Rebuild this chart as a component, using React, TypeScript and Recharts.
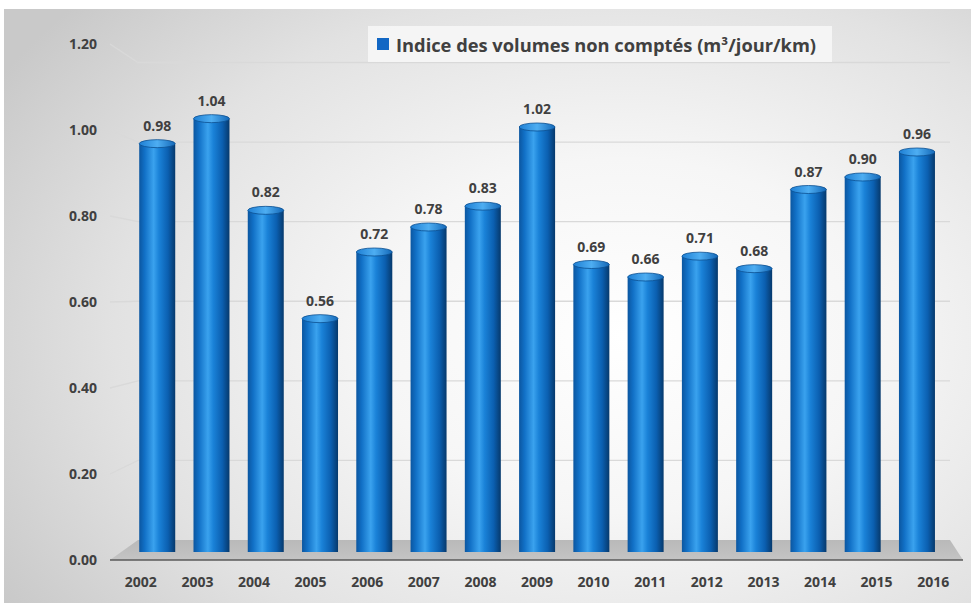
import { BarChart, Bar, XAxis, YAxis, CartesianGrid, Legend, LabelList } from 'recharts';

const years = ['2002', '2003', '2004', '2005', '2006', '2007', '2008', '2009', '2010', '2011', '2012', '2013', '2014', '2015', '2016'];
const indice = [0.98, 1.04, 0.82, 0.56, 0.72, 0.78, 0.83, 1.02, 0.69, 0.66, 0.71, 0.68, 0.87, 0.9, 0.96];
const yTicks = [0, 0.2, 0.4, 0.6, 0.8, 1.0, 1.2];
const seriesName = 'Indice des volumes non comptés (m³/jour/km)';

const data = years.map((year, i) => ({ year, indice: indice[i] }));

const W = 971;
const H = 605;
const PLOT_BOTTOM = 552;
const PLOT_LEFT = 130;
const PLOT_RIGHT = 944;
const FONT = '"Open Sans", "DejaVu Sans", sans-serif';
const TEXT = '#404040';

// fake 3D: front edge (labels) and back wall (gridlines) relative to the bar plane
const frontY = (y: number) => PLOT_BOTTOM + 8 - (PLOT_BOTTOM - y) * 1.032;
const backY = (y: number) => PLOT_BOTTOM - 12 - (PLOT_BOTTOM - y) * 0.955;
const midX = (PLOT_LEFT + PLOT_RIGHT) / 2;
const frontX = (x: number) => midX + (x - midX) * 1.043;

const GridLine = (props: any) => {
  const { x1, x2, y1 } = props;
  if (Math.abs(y1 - PLOT_BOTTOM) < 1) {
    // floor
    const back = PLOT_BOTTOM - 12;
    const front = PLOT_BOTTOM + 8;
    return (
      <g>
        <defs>
          <linearGradient id="floorGrad" x1="0" y1="0" x2="0" y2="1">
            <stop offset="0%" stopColor="#b9b9b9" />
            <stop offset="100%" stopColor="#c4c4c4" />
          </linearGradient>
        </defs>
        <path
          d={`M${x1 + 8},${back} L${x2 + 6},${back} L${x2 + 19},${front} L${x1 - 20},${front} Z`}
          fill="url(#floorGrad)"
        />
        <line x1={x1 - 20} y1={front} x2={x2 + 19} y2={front} stroke="#5a5a5a" strokeWidth={1.6} />
      </g>
    );
  }
  return (
    <path
      d={`M${x1 - 20},${frontY(y1)} L${x1 + 8},${backY(y1)} L${x2 + 6},${backY(y1)}`}
      fill="none"
      stroke="#d9d9d9"
      strokeWidth={1.3}
    />
  );
};

const Cylinder = (props: any) => {
  const { x, y, width, height, index } = props;
  if (!height || height <= 0) return null;
  const rx = width / 2;
  const ry = 4;
  const cx = x + rx;
  const id = `cyl${index}`;
  return (
    <g>
      <defs>
        <linearGradient id={`${id}b`} x1="0" y1="0" x2="1" y2="0">
          <stop offset="0%" stopColor="#0b56a0" />
          <stop offset="15%" stopColor="#1170c6" />
          <stop offset="40%" stopColor="#3aa2ee" />
          <stop offset="55%" stopColor="#1a82d8" />
          <stop offset="80%" stopColor="#0b5fb0" />
          <stop offset="100%" stopColor="#06396c" />
        </linearGradient>
        <linearGradient id={`${id}t`} x1="0" y1="0" x2="1" y2="0">
          <stop offset="0%" stopColor="#1e7fd4" />
          <stop offset="50%" stopColor="#4eaef2" />
          <stop offset="100%" stopColor="#1468b8" />
        </linearGradient>
      </defs>
      <path
        d={`M${x},${y} L${x},${y + height} A${rx},${ry + 1} 0 0 0 ${x + width},${y + height} L${x + width},${y} Z`}
        fill={`url(#${id}b)`}
      />
      <ellipse cx={cx} cy={y} rx={rx} ry={ry} fill={`url(#${id}t)`} stroke="#0b4f91" strokeWidth={0.8} />
    </g>
  );
};

const YTick = (props: any) => {
  const { y, payload } = props;
  return (
    <text x={97} y={frontY(y)} dy={5} textAnchor="end" fontFamily={FONT} fontWeight={700} fontSize={14} fill={TEXT}>
      {Number(payload.value).toFixed(2)}
    </text>
  );
};

const XTick = (props: any) => {
  const { x, payload } = props;
  return (
    <text x={frontX(x)} y={587} textAnchor="middle" fontFamily={FONT} fontWeight={700} fontSize={14} fill={TEXT}>
      {payload.value}
    </text>
  );
};

const ValueLabel = (props: any) => {
  const { x, y, width, value } = props;
  return (
    <text x={x + width / 2} y={y - 13} textAnchor="middle" fontFamily={FONT} fontWeight={700} fontSize={14} fill={TEXT}>
      {Number(value).toFixed(2)}
    </text>
  );
};

const LegendBox = (props: any) => {
  const { payload } = props;
  return (
    <div
      style={{
        display: 'flex',
        alignItems: 'center',
        height: 36,
        width: 464,
        boxSizing: 'border-box',
        paddingLeft: 9,
        background: 'rgba(246,246,246,0.9)',
        fontFamily: FONT,
        fontWeight: 700,
        fontSize: 18.3,
        color: TEXT,
        whiteSpace: 'nowrap',
      }}
    >
      {(payload || []).map((p: any) => (
        <span key={p.value} style={{ display: 'flex', alignItems: 'center' }}>
          <span style={{ display: 'inline-block', width: 12, height: 12, background: '#1267c4', marginRight: 7 }} />
          {p.value}
        </span>
      ))}
    </div>
  );
};

export default function App() {
  return (
    <div style={{ position: 'absolute', left: 0, top: 0, width: W, height: H }}>
      <div
        style={{
          position: 'absolute',
          left: 4,
          top: 9,
          width: W - 4,
          height: 594,
          background: 'radial-gradient(ellipse 75% 85% at 64% 55%, #ffffff 0%, #f6f6f6 35%, #e2e2e2 70%, #c9c9c9 100%)',
        }}
      />
      <BarChart
        width={W}
        height={H}
        data={data}
        margin={{ top: 52, right: W - PLOT_RIGHT, bottom: 0, left: 0 }}
        barCategoryGap="17%"
        style={{ position: 'absolute', left: 0, top: 0 }}
      >
        <CartesianGrid vertical={false} horizontal={GridLine} />
        <XAxis dataKey="year" height={H - PLOT_BOTTOM} axisLine={false} tickLine={false} tick={XTick} interval={0} />
        <YAxis
          width={PLOT_LEFT}
          domain={[0, 1.2]}
          ticks={yTicks}
          axisLine={false}
          tickLine={false}
          tick={YTick}
          allowDataOverflow
        />
        <Legend
          layout="horizontal"
          verticalAlign="middle"
          align="center"
          content={LegendBox}
          wrapperStyle={{ position: 'absolute', left: 368, top: 26, width: 464, height: 36 }}
        />
        <Bar dataKey="indice" name={seriesName} fill="#1267c4" shape={Cylinder} isAnimationActive={false}>
          <LabelList dataKey="indice" content={ValueLabel} />
        </Bar>
      </BarChart>
    </div>
  );
}
